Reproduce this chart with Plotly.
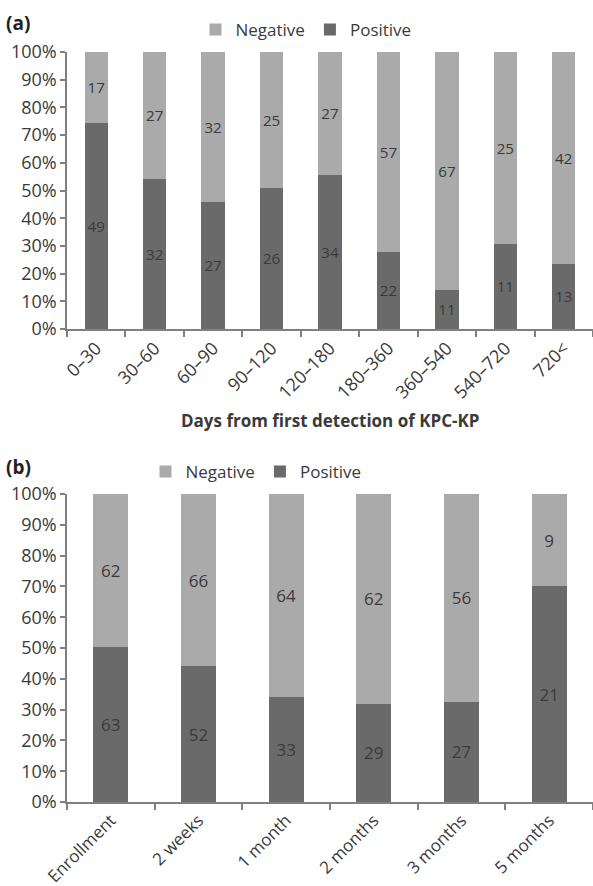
import plotly.graph_objects as go

cats_a = ["0–30", "30–60", "60–90", "90–120", "120–180", "180–360", "360–540", "540–720", "720<"]
pos_a = [49, 32, 27, 26, 34, 22, 11, 11, 13]
neg_a = [17, 27, 32, 25, 27, 57, 67, 25, 42]

cats_b = ["Enrollment", "2 weeks", "1 month", "2 months", "3 months", "5 months"]
pos_b = [63, 52, 33, 29, 27, 21]
neg_b = [62, 66, 64, 62, 56, 9]

NEG_COLOR = "#aaaaaa"
POS_COLOR = "#6a6a6a"
TXT = "#3a3a3a"
FONT = "Open Sans"
W, H = 593, 886


def pct(a, b):
    return [100 * x / (x + y) for x, y in zip(a, b)]


fig = go.Figure()

def add(cats, vals, other, name, color, xa, ya, leg, rank):
    fig.add_trace(go.Bar(x=cats, y=pct(vals, other), name=name, marker_color=color,
                         marker_line_width=0,
                         text=[str(v) for v in vals], textposition="inside",
                         insidetextanchor="middle", textangle=0,
                         textfont=dict(color=TXT, size=17, family=FONT), xaxis=xa, yaxis=ya,
                         legend=leg, legendrank=rank, hoverinfo="skip"))

add(cats_a, pos_a, neg_a, "Positive", POS_COLOR, "x", "y", "legend", 2)
add(cats_a, neg_a, pos_a, "Negative", NEG_COLOR, "x", "y", "legend", 1)
add(cats_b, pos_b, neg_b, "Positive", POS_COLOR, "x2", "y2", "legend2", 2)
add(cats_b, neg_b, pos_b, "Negative", NEG_COLOR, "x2", "y2", "legend2", 1)

x_dom = [67 / W, 1.0]
ya_dom = [1 - 329 / H, 1 - 52 / H]
yb_dom = [1 - 802 / H, 1 - 494 / H]

axis_common = dict(showline=True, linecolor="#808080", linewidth=1.5, ticks="outside",
                   tickcolor="#808080", tickwidth=1.5, showgrid=False, zeroline=False,
                   automargin=False, fixedrange=True)
tf18 = dict(family=FONT, size=18, color=TXT)
tf17 = dict(family=FONT, size=17, color=TXT)

fig.update_layout(
    width=W, height=H, margin=dict(l=0, r=0, t=0, b=0, autoexpand=False),
    paper_bgcolor="white", plot_bgcolor="white",
    barmode="stack",
    bargap=0.6,
    font=dict(family=FONT, color=TXT),
    xaxis=dict(domain=x_dom, anchor="y", tickangle=-45, tickson="boundaries", ticklen=6,
               tickfont=tf18, **axis_common),
    yaxis=dict(domain=ya_dom, anchor="x", range=[0, 100], dtick=10, ticksuffix="%", ticklen=5,
               tickfont=tf18, **axis_common),
    xaxis2=dict(domain=x_dom, anchor="y2", tickangle=-45, tickson="boundaries", ticklen=6,
                tickfont=tf17, **axis_common),
    yaxis2=dict(domain=yb_dom, anchor="x2", range=[0, 100], dtick=10, ticksuffix="%", ticklen=5,
                tickfont=tf18, **axis_common),
    legend=dict(orientation="h", x=306 / W, xanchor="center", y=1 - 30 / H, yanchor="middle",
                font=dict(family=FONT, size=17, color=TXT), itemwidth=30,
                bgcolor="rgba(0,0,0,0)", traceorder="normal"),
    legend2=dict(orientation="h", x=256 / W, xanchor="center", y=1 - 472 / H, yanchor="middle",
                 font=dict(family=FONT, size=17, color=TXT), itemwidth=30,
                 bgcolor="rgba(0,0,0,0)", traceorder="normal"),
    annotations=[
        dict(text="<b>(a)</b>", x=4 / W, y=1 - 23 / H, xref="paper", yref="paper",
             xanchor="left", yanchor="middle", showarrow=False,
             font=dict(family=FONT, size=19, color="#222")),
        dict(text="<b>(b)</b>", x=4 / W, y=1 - 467 / H, xref="paper", yref="paper",
             xanchor="left", yanchor="middle", showarrow=False,
             font=dict(family=FONT, size=19, color="#222")),
        dict(text="<b>Days from first detection of KPC-KP</b>", x=330 / W, y=1 - 420 / H,
             xref="paper", yref="paper", xanchor="center", yanchor="middle", showarrow=False,
             font=dict(family=FONT, size=17, color=TXT)),
    ],
    showlegend=True,
)

fig.update_traces(cliponaxis=False)

fig.write_html("out.html", config={"displayModeBar": False},
               post_script="document.body.style.margin='0';document.body.style.overflow='hidden';")
